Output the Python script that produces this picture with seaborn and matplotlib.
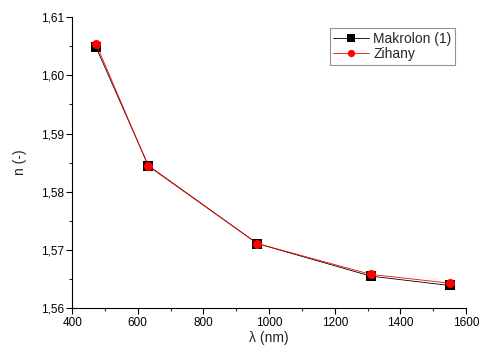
import matplotlib
matplotlib.use("Agg")
import matplotlib.pyplot as plt
import seaborn as sns
import pandas as pd
from matplotlib.ticker import MultipleLocator, FuncFormatter

wavelength = [473, 632, 964, 1310, 1550]
makrolon = [1.6048, 1.5845, 1.5711, 1.5655, 1.5639]
zihany = [1.6054, 1.5844, 1.5711, 1.5658, 1.5643]
series_names = ["Makrolon (1)", "Zihany"]

sns.set_theme(style="white")
plt.rcParams['font.family'] = ['Liberation Sans', 'DejaVu Sans']

df = pd.concat([
    pd.DataFrame({"x": wavelength, "n": makrolon, "s": series_names[0]}),
    pd.DataFrame({"x": wavelength, "n": zihany, "s": series_names[1]}),
])

fig = plt.figure(figsize=(4.81, 3.49), dpi=100)
ax = fig.add_axes([0.150, 0.117, 0.819, 0.834])

sns.lineplot(data=df, x="x", y="n", hue="s", style="s",
             palette={series_names[0]: "black", series_names[1]: "red"},
             markers={series_names[0]: "s", series_names[1]: "o"},
             dashes=False, linewidth=0.6, markersize=6.5, markeredgewidth=0,
             ax=ax)

ax.set_xlim(400, 1600)
ax.set_ylim(1.56, 1.61)
ax.xaxis.set_major_locator(MultipleLocator(200))
ax.xaxis.set_minor_locator(MultipleLocator(100))
ax.yaxis.set_major_locator(MultipleLocator(0.01))
ax.yaxis.set_minor_locator(MultipleLocator(0.005))
ax.yaxis.set_major_formatter(FuncFormatter(lambda v, p: f"{v:.2f}".replace(".", ",")))
ax.tick_params(axis="both", which="major", direction="out", length=4, width=0.8,
               labelsize=8.5, colors="black", bottom=True, left=True, pad=2)
ax.tick_params(axis="both", which="minor", direction="out", length=2.5, width=0.8,
               bottom=True, left=True)
for s in ["top", "right"]:
    ax.spines[s].set_visible(False)
for s in ["left", "bottom"]:
    ax.spines[s].set_color("black")
    ax.spines[s].set_linewidth(0.8)

ax.set_xlabel("λ (nm)", fontsize=10, labelpad=2)
ax.set_ylabel("n (-)", fontsize=10, labelpad=10)

leg = ax.legend(loc="upper right", bbox_to_anchor=(0.99, 0.985), fontsize=10,
                frameon=True, fancybox=False, edgecolor="#777777",
                handlelength=2.6, borderpad=0.25, labelspacing=0.1, handletextpad=0.3,
                markerscale=0.8)
leg.get_frame().set_linewidth(0.8)

fig.savefig("out.png", dpi=100)
